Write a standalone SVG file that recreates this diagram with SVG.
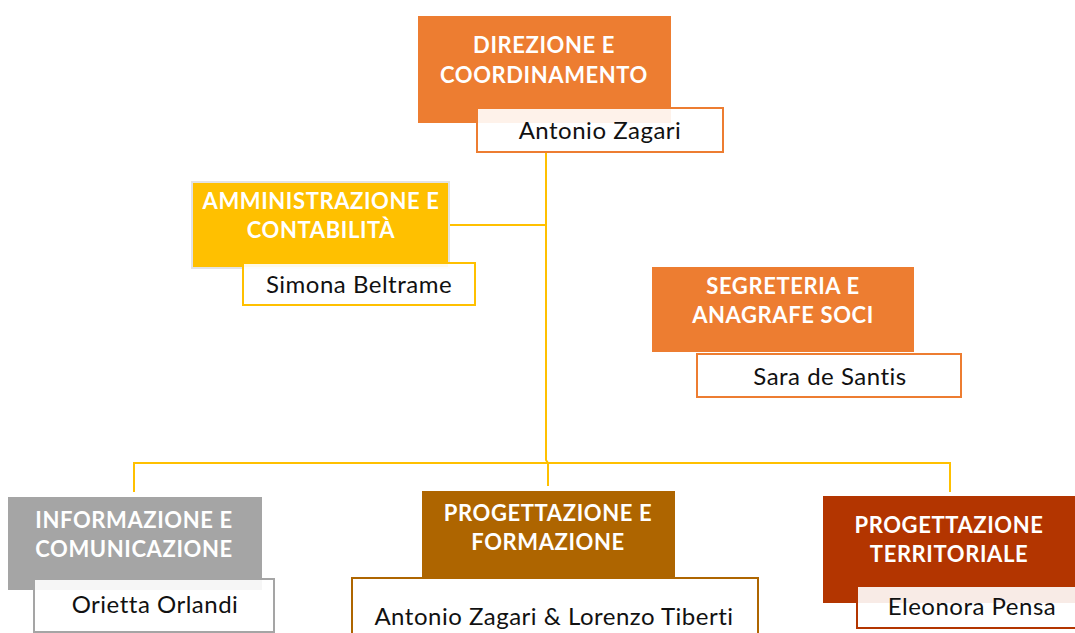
<svg xmlns="http://www.w3.org/2000/svg" width="1075" height="633" viewBox="0 0 1075 633">
<style>
.t{font-family:Lato,"Liberation Sans",sans-serif;font-weight:bold;font-size:22px;fill:#fff;text-anchor:middle;letter-spacing:0.6px;font-variant-ligatures:none}
.n{font-family:Lato,"Liberation Sans",sans-serif;font-size:24px;fill:#111;text-anchor:middle;letter-spacing:0.5px;font-variant-ligatures:none}
.c{fill:none;stroke:#FFC000;stroke-width:2}
.nb{fill:#fff;fill-opacity:0.9;stroke-width:2}
</style>
<rect width="1075" height="633" fill="#fff"/>
<g id="connectors">
<path class="c" d="M546 152 V460 L548 463 V486"/>
<path class="c" d="M449 225 H546"/>
<path class="c" d="M134 492 V463 H950 V492"/>
</g>
<g id="direzione">
<rect x="418" y="16" width="253" height="107" fill="#ED7D31"/>
<text class="t" x="544" y="53">DIREZIONE E</text>
<text class="t" x="544" y="83">COORDINAMENTO</text>
<rect class="nb" x="477" y="108" width="246" height="44" stroke="#ED7D31"/>
<text class="n" x="600" y="139">Antonio Zagari</text>
</g>
<g id="amministrazione">
<rect x="191" y="181" width="259" height="88" fill="#E3E3E3"/>
<rect x="193" y="183" width="255" height="84" fill="#FFC000"/>
<text class="t" x="321" y="209">AMMINISTRAZIONE E</text>
<text class="t" x="321" y="238">CONTABILITÀ</text>
<rect class="nb" x="243" y="263" width="232" height="42" stroke="#FFC000"/>
<text class="n" x="359" y="293">Simona Beltrame</text>
</g>
<g id="segreteria">
<rect x="652" y="267" width="262" height="85" fill="#ED7D31"/>
<text class="t" x="783" y="294">SEGRETERIA E</text>
<text class="t" x="783" y="323">ANAGRAFE SOCI</text>
<rect class="nb" x="697" y="354" width="264" height="43" stroke="#ED7D31"/>
<text class="n" x="830" y="385">Sara de Santis</text>
</g>
<g id="informazione">
<rect x="8" y="497" width="254" height="93" fill="#A5A5A5"/>
<text class="t" x="134" y="528">INFORMAZIONE E</text>
<text class="t" x="134" y="557">COMUNICAZIONE</text>
<rect class="nb" x="34" y="579" width="240" height="53" stroke="#A5A5A5"/>
<text class="n" x="155" y="613">Orietta Orlandi</text>
</g>
<g id="formazione">
<rect x="422" y="491" width="253" height="87" fill="#AE6500"/>
<text class="t" x="548" y="521">PROGETTAZIONE E</text>
<text class="t" x="548" y="550">FORMAZIONE</text>
<rect class="nb" x="352" y="578" width="406" height="60" stroke="#AE6500"/>
<text class="n" x="554" y="625">Antonio Zagari &amp; Lorenzo Tiberti</text>
</g>
<g id="territoriale">
<rect x="823" y="496" width="252" height="107" fill="#B33500"/>
<text class="t" x="949" y="533">PROGETTAZIONE</text>
<text class="t" x="949" y="562">TERRITORIALE</text>
<rect class="nb" x="857" y="586" width="220" height="42" stroke="#B33500"/>
<text class="n" x="972" y="615">Eleonora Pensa</text>
</g>
</svg>
